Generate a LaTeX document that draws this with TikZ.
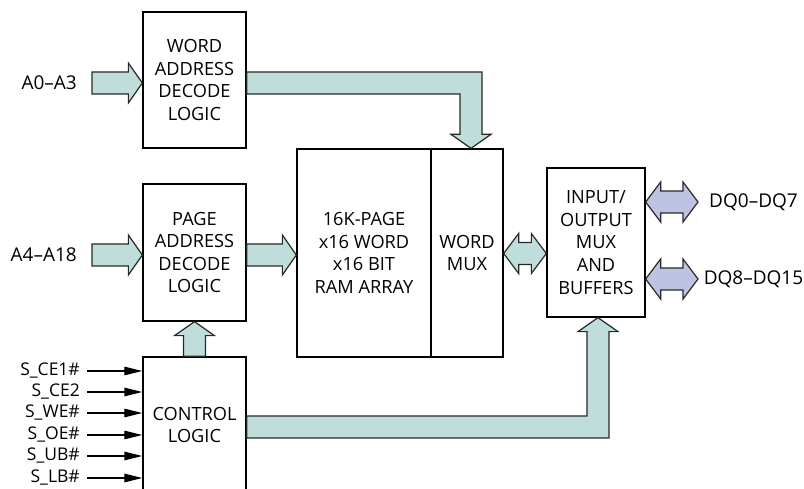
\documentclass[tikz,border=0pt]{standalone}
\usepackage{fontspec}
\setmainfont{Open Sans}
\usetikzlibrary{arrows.meta,calc}
\definecolor{busfill}{RGB}{191,221,219}
\definecolor{dqfill}{RGB}{189,195,226}
\definecolor{edge}{RGB}{40,40,40}
% horizontal single bus arrow: #2 start, #3 tip
\newcommand\hbusR[3][busfill]{%
  \draw[bus,fill=#1] let \p1=(#2), \p2=(#3) in
    (\x1,{\y1+11pt}) -- ({\x2-14pt},{\y1+11pt}) -- ({\x2-14pt},{\y1+20pt}) -- (\x2,\y1)
    -- ({\x2-14pt},{\y1-20pt}) -- ({\x2-14pt},{\y1-11pt}) -- (\x1,{\y1-11pt}) -- cycle;}
% horizontal double bus arrow: #2 left tip, #3 right tip
\newcommand\dbus[3][busfill]{%
  \draw[bus,fill=#1] let \p1=(#2), \p2=(#3) in
    (\x1,\y1) -- ({\x1+15pt},{\y1+20pt}) -- ({\x1+15pt},{\y1+11pt}) -- ({\x2-15pt},{\y1+11pt})
    -- ({\x2-15pt},{\y1+20pt}) -- (\x2,\y1) -- ({\x2-15pt},{\y1-20pt}) -- ({\x2-15pt},{\y1-11pt})
    -- ({\x1+15pt},{\y1-11pt}) -- ({\x1+15pt},{\y1-20pt}) -- cycle;}
\begin{document}
\begin{tikzpicture}[x=1pt,y=-1pt,
  box/.style={draw=black,line width=1.3pt,fill=white,inner sep=0pt,align=center,
    font=\fontsize{18.2}{22.6}\selectfont},
  bus/.style={draw=edge,line width=1.2pt,line join=miter},
  lbl/.style={inner sep=0pt,font=\fontsize{19}{22}\selectfont},
  siglbl/.style={inner ysep=0pt,inner xsep=7pt,anchor=east,font=\fontsize{17.5}{19}\selectfont},
  sig/.style={line width=1.1pt,-{Triangle[length=18pt,width=8.5pt]}}]
\useasboundingbox (0,0) rectangle (804,489);
\clip (0,0) rectangle (804,489);

% blocks
\node[box,minimum width=103pt,minimum height=136pt] (wad) at (194.5,80) {WORD\\ADDRESS\\DECODE\\LOGIC};
\node[box,minimum width=103pt,minimum height=137pt] (pad) at (194.5,252.5) {PAGE\\ADDRESS\\DECODE\\LOGIC};
\node[box,minimum width=134pt,minimum height=208pt] (ram) at (364,253) {16K-PAGE\\x16 WORD\\x16 BIT\\RAM ARRAY};
\node[box,minimum width=72pt,minimum height=208pt] (mux) at (467,253) {WORD\\MUX};
\node[box,minimum width=98pt,minimum height=149pt] (io) at (596,242.5) {INPUT/\\OUTPUT\\MUX\\AND\\BUFFERS};
\node[box,minimum width=103pt,minimum height=136pt] (ctl) at (194.5,425) {CONTROL\\LOGIC};

% external labels
\node[lbl,anchor=east,inner xsep=15pt] (a03) at (92,83) {A0–A3};
\node[lbl,anchor=east,inner xsep=15pt] (a418) at (92,255) {A4–A18};
\node[lbl] (dq1) at (753.5,202) {DQ0–DQ7};
\node[lbl] (dq2) at (753.5,279) {DQ8–DQ15};
\coordinate (dq1end) at (698,202);
\coordinate (dq2end) at (698,279);

% buses
\hbusR{a03.east}{wad.west |- a03.east}
\hbusR{a418.east}{pad.west |- a418.east}
\hbusR{pad.east |- a418.east}{ram.west |- a418.east}
\dbus{mux.east |- 0,253.5}{io.west |- 0,253.5}
\dbus[dqfill]{io.east |- dq1end}{dq1end}
\dbus[dqfill]{io.east |- dq2end}{dq2end}

% control -> page decode (up)
\draw[bus,fill=busfill] let \p1=(ctl.north), \p2=(pad.south) in
  ({\x1-11pt},\y1) -- ({\x1-11pt},{\y2-14pt}) -- ({\x1-20pt},{\y2-14pt}) -- (\x2,\y2)
  -- ({\x1+20pt},{\y2-14pt}) -- ({\x1+11pt},{\y2-14pt}) -- ({\x1+11pt},\y1) -- cycle;

% word decode -> word mux (bent)
\draw[bus,fill=busfill] let \p1=(wad.east |- 0,83), \p2=(471,0 |- mux.north) in
  (\x1,{\y1+11pt}) -- ({\x2+11pt},{\y1+11pt}) -- ({\x2+11pt},{\y2+14pt}) -- ({\x2+20pt},{\y2+14pt})
  -- (\x2,\y2) -- ({\x2-20pt},{\y2+14pt}) -- ({\x2-11pt},{\y2+14pt}) -- ({\x2-11pt},{\y1-11pt})
  -- (\x1,{\y1-11pt}) -- cycle;

% control -> I/O (bent)
\draw[bus,fill=busfill] let \p1=(ctl.east |- 0,427), \p2=(598,0 |- io.south) in
  (\x1,{\y1-11pt}) -- ({\x2+11pt},{\y1-11pt}) -- ({\x2+11pt},{\y2-14pt}) -- ({\x2+20pt},{\y2-14pt})
  -- (\x2,\y2) -- ({\x2-20pt},{\y2-14pt}) -- ({\x2-11pt},{\y2-14pt}) -- ({\x2-11pt},{\y1+11pt})
  -- (\x1,{\y1+11pt}) -- cycle;

% control signals
\node[siglbl] (s1) at (87,371) {S\_CE1\#};
\node[siglbl] (s2) at (87,392) {S\_CE2};
\node[siglbl] (s3) at (87,413) {S\_WE\#};
\node[siglbl] (s4) at (87,435) {S\_OE\#};
\node[siglbl] (s5) at (87,456) {S\_UB\#};
\node[siglbl] (s6) at (87,478) {S\_LB\#};
\foreach \s in {s1,s2,s3,s4,s5,s6}
  \draw[sig] (\s.east) -- (ctl.west |- \s.east);
\end{tikzpicture}
\end{document}
